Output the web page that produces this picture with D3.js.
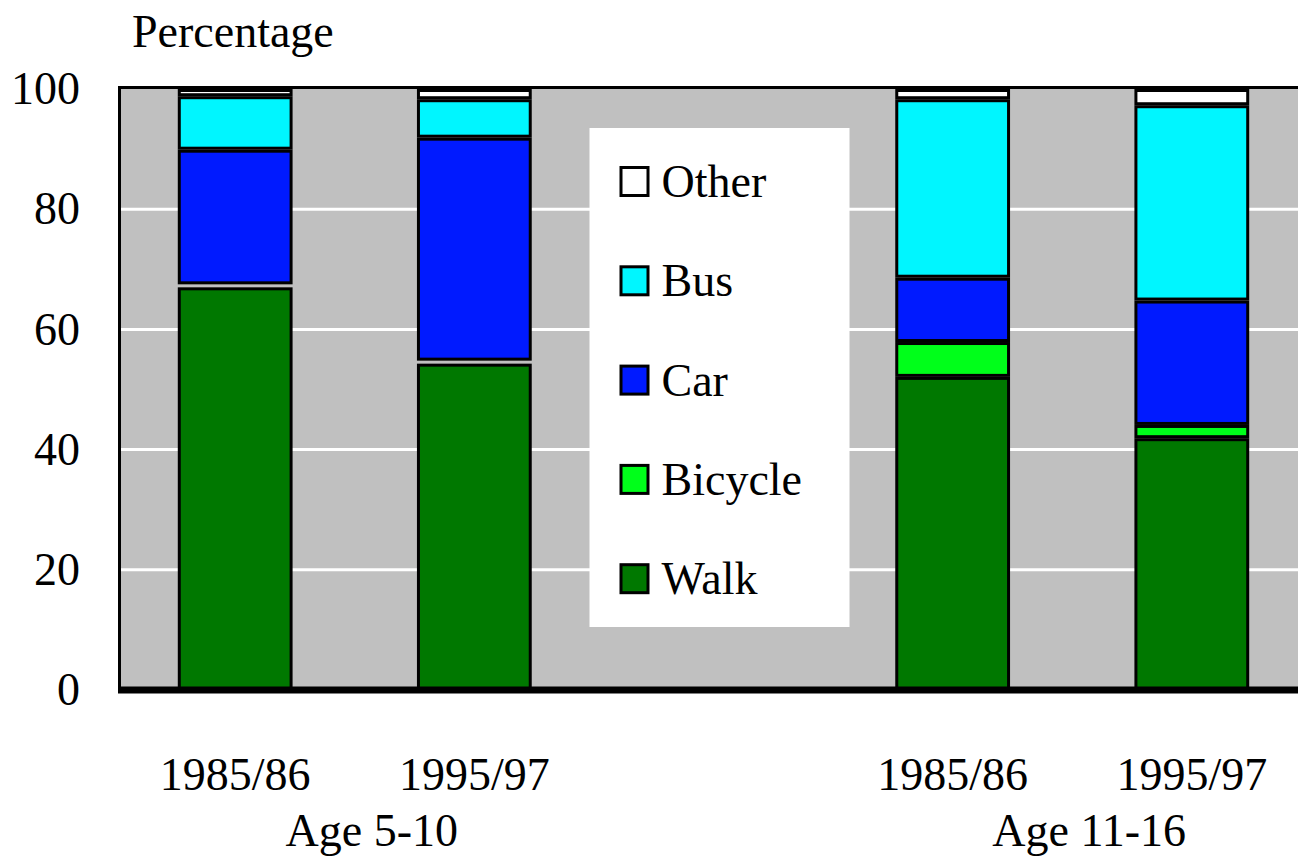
<!DOCTYPE html>
<html>
<head>
<meta charset="utf-8">
<script src="https://cdn.jsdelivr.net/npm/d3@7"></script>
<style>
  body { margin: 0; background: #fff; }
  text { font-family: 'Liberation Serif', 'Times New Roman', serif; fill: #000; }
</style>
</head>
<body>
<div id="chart"></div>
<script>
// values (percent of trips)
const slots = ['a1', 'a2', 'gap', 'b1', 'b2']
const barKeys = ['a1', 'a2', 'b1', 'b2']
const periods = ['1985/86', '1995/97', '1985/86', '1995/97']
const groups = ['Age 5-10', 'Age 11-16']
const modes = ['Walk', 'Bicycle', 'Car', 'Bus', 'Other']
const walk = [67, 54.3, 52.1, 41.9]
const bicycle = [0.5, 0.5, 5.8, 2.2]
const car = [22.4, 37.1, 10.7, 20.7]
const bus = [8.9, 6.4, 29.7, 32.5]
const other = [1.2, 1.7, 1.7, 2.7]
const yTicks = [0, 20, 40, 60, 80, 100]

const colors = {
  Walk: '#007800',
  Bicycle: '#00ff1a',
  Car: '#001aff',
  Bus: '#00f6ff',
  Other: '#ffffff'
}

const width = 1298
const height = 859
const plotLeft = 118
const plotTop = 89
const plotBottom = 690

const rows = barKeys.map((k, i) => ({
  key: k,
  Walk: walk[i],
  Bicycle: bicycle[i],
  Car: car[i],
  Bus: bus[i],
  Other: other[i]
}))

const svg = d3.select('#chart')
  .append('svg')
  .attr('width', width)
  .attr('height', height)

const x = d3.scaleBand()
  .domain(slots)
  .range([plotLeft, 1309])
  .paddingInner(0.52)
  .paddingOuter(0.25)

const y = d3.scaleLinear()
  .domain([0, 100])
  .range([plotBottom, plotTop])

// plot background
svg.append('rect')
  .attr('x', plotLeft)
  .attr('y', y(100))
  .attr('width', width - plotLeft)
  .attr('height', y(0) - y(100))
  .style('fill', '#c0c0c0')

// white gridlines
svg.append('g')
  .selectAll('line')
  .data(yTicks.filter(t => t > 0 && t < 100))
  .enter()
  .append('line')
  .attr('x1', plotLeft)
  .attr('x2', width)
  .attr('y1', d => y(d))
  .attr('y2', d => y(d))
  .style('stroke', '#fff')
  .style('stroke-width', 3)

// legend box sits in the empty middle slot
const legendX = x('gap') + x.bandwidth() / 2 - 124
const legend = svg.append('g')
  .attr('transform', 'translate(' + legendX + ',128)')

legend.append('rect')
  .attr('width', 260)
  .attr('height', 499)
  .style('fill', '#fff')

const legendItems = legend.selectAll('.item')
  .data(modes.slice().reverse())
  .enter()
  .append('g')
  .attr('class', 'item')
  .attr('transform', (d, i) => 'translate(30,' + (38 + i * 99.3) + ')')

legendItems.append('rect')
  .attr('x', 1.5)
  .attr('y', 1.5)
  .attr('width', 27)
  .attr('height', 28)
  .style('fill', d => colors[d])
  .style('stroke', '#000')
  .style('stroke-width', 3)

legendItems.append('text')
  .attr('x', 42)
  .attr('y', 31)
  .style('font-size', '46px')
  .text(d => d)

// stacked bars
const stack = d3.stack().keys(modes)
const series = stack(rows)
const border = 3

svg.append('g')
  .selectAll('g')
  .data(series)
  .enter()
  .append('g')
  .style('fill', d => colors[d.key])
  .selectAll('rect')
  .data(d => d.filter(p => y(p[0]) - y(p[1]) > border * 2))
  .enter()
  .append('rect')
  .attr('x', d => x(d.data.key) + border / 2)
  .attr('y', d => y(d[1]) + border / 2)
  .attr('width', x.bandwidth() - border)
  .attr('height', d => y(d[0]) - y(d[1]) - border)
  .style('stroke', '#000')
  .style('stroke-width', border)

// frame: left and top edges, heavy base line
svg.append('line')
  .attr('x1', plotLeft + 1.5).attr('x2', plotLeft + 1.5)
  .attr('y1', y(100) - 3).attr('y2', y(0))
  .style('stroke', '#000').style('stroke-width', 3)

svg.append('line')
  .attr('x1', plotLeft).attr('x2', width)
  .attr('y1', y(100) - 1.5).attr('y2', y(100) - 1.5)
  .style('stroke', '#000').style('stroke-width', 3)

svg.append('line')
  .attr('x1', plotLeft).attr('x2', width)
  .attr('y1', y(0)).attr('y2', y(0))
  .style('stroke', '#000').style('stroke-width', 7)

// y axis labels
const yAxis = svg.append('g')
  .attr('transform', 'translate(' + plotLeft + ',0)')
  .call(d3.axisLeft(y).tickValues(yTicks).tickSize(0).tickPadding(38))

yAxis.select('.domain').remove()
yAxis.selectAll('text')
  .style('font-family', "'Liberation Serif', serif")
  .style('font-size', '46px')
  .style('fill', '#000')

svg.append('text')
  .attr('x', 132)
  .attr('y', 47)
  .style('font-size', '46px')
  .text('Percentage')

// x labels
svg.append('g')
  .selectAll('text')
  .data(barKeys)
  .enter()
  .append('text')
  .attr('x', d => x(d) + x.bandwidth() / 2)
  .attr('y', 790)
  .attr('text-anchor', 'middle')
  .style('font-size', '46px')
  .text((d, i) => periods[i])

svg.append('g')
  .selectAll('text')
  .data(groups)
  .enter()
  .append('text')
  .attr('x', (d, i) => {
    const a = x(barKeys[i * 2]) + x.bandwidth() / 2
    const b = x(barKeys[i * 2 + 1]) + x.bandwidth() / 2
    return (a + b) / 2 + 17
  })
  .attr('y', 846)
  .attr('text-anchor', 'middle')
  .style('font-size', '46px')
  .text(d => d)
</script>
</body>
</html>
